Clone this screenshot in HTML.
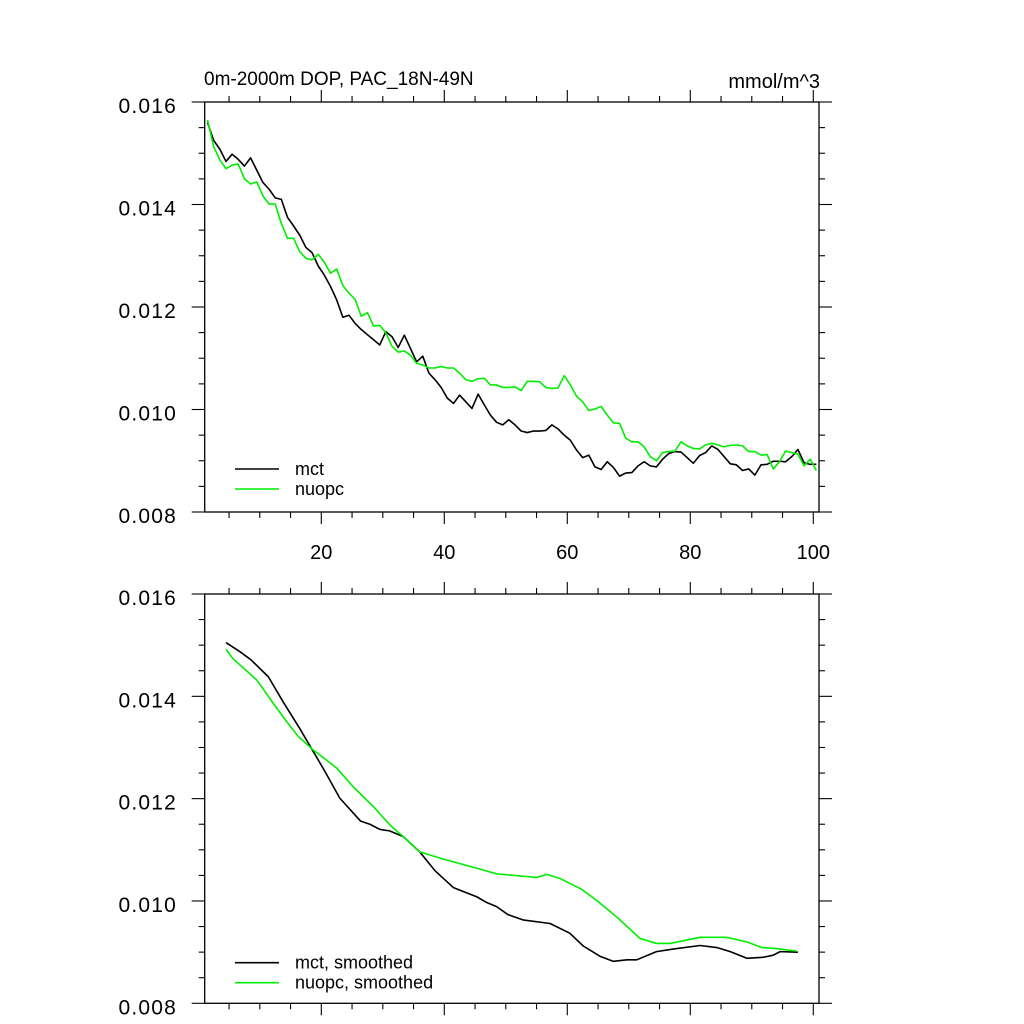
<!DOCTYPE html>
<html><head><meta charset="utf-8"><style>
html,body{margin:0;padding:0;background:#fff;}
svg{display:block;font-family:"Liberation Sans",Arial,sans-serif;}
</style></head><body>
<svg id="chart" width="1024" height="1024" viewBox="0 0 1024 1024" xmlns="http://www.w3.org/2000/svg">
<rect x="0" y="0" width="1024" height="1024" fill="#fff"/>
<text x="204" y="85" font-size="19">0m-2000m DOP, PAC_18N-49N</text>
<text x="820" y="88" font-size="20" text-anchor="end">mmol/m^3</text>
<g id="top"></g>
<g id="bot"></g>
</svg>
<script>
const xTicks = [20, 40, 60, 80, 100];
const yTicks = [0.008, 0.010, 0.012, 0.014, 0.016];
const yTickLabels = ["0.008", "0.010", "0.012", "0.014", "0.016"];
const mctRaw = [0.0156,0.01525,0.01508,0.01484,0.01498,0.01488,0.01475,0.01491,0.01467,0.01443,0.0143,0.01413,0.0141,0.01375,0.01358,0.0134,0.01316,0.01306,0.0128,0.01262,0.0124,0.01214,0.0118,0.01184,0.01168,
0.01156,0.01146,0.01136,0.01126,0.01152,0.01142,0.01121,0.01145,0.01119,0.01093,0.01104,0.01071,0.01058,0.01043,0.01022,0.01012,0.01028,0.01015,0.01002,0.0103,0.01009,0.00989,0.00975,0.0097,0.0098,
0.0097,0.00958,0.00955,0.00958,0.00958,0.00959,0.0097,0.00962,0.0095,0.0094,0.00921,0.00906,0.00911,0.00888,0.00883,0.00898,0.00887,0.0087,0.00876,0.00877,0.0089,0.00898,0.0089,0.00888,0.00903,
0.00914,0.00918,0.00917,0.00906,0.00895,0.0091,0.00916,0.00929,0.00922,0.00908,0.00894,0.00892,0.00881,0.00884,0.00872,0.00892,0.00893,0.00899,0.00899,0.00898,0.00908,0.00922,0.00896,0.00893,0.00893];
const nuopcRaw = [0.01565,0.01513,0.01487,0.0147,0.01477,0.01479,0.0145,0.0144,0.01444,0.01417,0.01401,0.01401,0.01363,0.01334,0.01334,0.01308,0.01295,0.01292,0.01303,0.01287,0.01266,0.01274,0.01242,0.01227,0.01215,
0.01182,0.01189,0.01163,0.01164,0.0115,0.01123,0.01112,0.01114,0.01106,0.0109,0.01087,0.01081,0.01081,0.01084,0.01081,0.01081,0.01071,0.01058,0.01055,0.0106,0.01061,0.01048,0.01048,0.01043,0.01043,
0.01044,0.01037,0.01055,0.01055,0.01054,0.01043,0.01041,0.01042,0.01066,0.01048,0.01026,0.01015,0.00998,0.01001,0.01006,0.00989,0.00974,0.00973,0.00944,0.00937,0.00937,0.00927,0.00908,0.009,0.00916,
0.00918,0.00919,0.00937,0.00929,0.00924,0.00923,0.00931,0.00934,0.00931,0.00927,0.0093,0.00931,0.00929,0.00918,0.00918,0.00911,0.00912,0.00884,0.00898,0.00919,0.00916,0.00913,0.0089,0.00903,0.00881];
const mctSmX = [4.5,6.8,8.6,11.4,13.8,16.5,18.7,20.6,23.0,26.4,27.9,29.5,31.1,33.3,36.0,38.5,41.5,45.3,46.9,48.5,50.4,52.8,57.2,60.4,62.6,65.3,67.5,69.7,71.3,74.5,77.2,81.6,84.3,86.5,89.2,91.9,93.5,94.6,97.5];
const mctSmY = [0.01505,0.01487,0.01471,0.01438,0.01389,0.01337,0.01292,0.01253,0.01201,0.01156,0.0115,0.0114,0.01137,0.01126,0.01096,0.01059,0.01026,0.01008,0.00997,0.00989,0.00973,0.00963,0.00956,0.00937,0.00912,0.00892,0.00882,0.00885,0.00885,0.00901,0.00906,0.00913,0.00909,0.00901,0.00888,0.0089,0.00894,0.00901,0.009];
const nuopcSmX = [4.5,5.6,9.5,12.2,14.4,16.3,18.7,22.5,25.2,28.5,31.2,33.3,36.0,39.8,45.3,48.5,52.3,55.0,56.7,58.8,62.3,64.8,68.0,71.8,74.5,76.7,81.6,85.9,89.2,91.6,94.0,97.3];
const nuopcSmY = [0.01492,0.01474,0.01432,0.01386,0.0135,0.01321,0.01295,0.0126,0.01223,0.01184,0.01148,0.01126,0.01096,0.01082,0.01064,0.01053,0.01049,0.01046,0.01052,0.01044,0.01023,0.01001,0.00969,0.00927,0.00917,0.00917,0.00929,0.00929,0.0092,0.00909,0.00907,0.00902];

const NS = "http://www.w3.org/2000/svg";
const X0 = 204.7, X1 = 819, XMIN = 1.04, XMAX = 100.93;
function xs(v){ return X0 + (v - XMIN) / (XMAX - XMIN) * (X1 - X0); }
function mk(tag, attrs, parent){ const e = document.createElementNS(NS, tag); for (const k in attrs) e.setAttribute(k, attrs[k]); parent.appendChild(e); return e; }

function panel(g, top, bottom, xLabels){
  function ys(v){ return bottom - (v - 0.008) / 0.008 * (bottom - top); }
  const frame = mk("rect", {x:X0, y:top, width:X1-X0, height:bottom-top, fill:"none", stroke:"#000", "stroke-width":1.3}, g);
  
  
  for (let v = 5; v <= 100; v += 5) {
    const major = v % 20 === 0, L = major ? 12 : 6, x = xs(v);
    const t1 = mk("line", {x1:x, x2:x, y1:bottom, y2:bottom+L, stroke:"#000", "stroke-width":1.1}, g);
    
    
    const t2 = mk("line", {x1:x, x2:x, y1:top, y2:top-L, stroke:"#000", "stroke-width":1.1}, g);
    
    
  }
  if (xLabels) xTicks.forEach(v => {
    const t = mk("text", {x:xs(v), y:bottom+47, "font-size":20, "text-anchor":"middle"}, g);
    t.textContent = String(v);
    
    
  });
  for (let k = 0; k <= 16; k++) {
    const v = 0.008 + k * 0.0005, major = k % 4 === 0, L = major ? 13 : 6, y = ys(v);
    const a = mk("line", {x1:X0, x2:X0-L, y1:y, y2:y, stroke:"#000", "stroke-width":1.1}, g);
    
    
    const b = mk("line", {x1:X1, x2:X1+L, y1:y, y2:y, stroke:"#000", "stroke-width":1.1}, g);
    
    
  }
  yTicks.forEach((v, i) => {
    const t = mk("text", {x:177, y:ys(v)+11, "font-size":21, "letter-spacing":1.2, "text-anchor":"end"}, g);
    t.textContent = yTickLabels[i];
    
    
  });
  return ys;
}
function line(g, xv, yv, ys, color, name){
  const d = xv.map((x, i) => (i ? "L" : "M") + xs(x).toFixed(2) + "," + ys(yv[i]).toFixed(2)).join("");
  const p = mk("path", {d:d, fill:"none", stroke:color, "stroke-width":1.6, "stroke-linejoin":"round"}, g);
  
  
}
function legend(g, y0, labels){
  [["#000", labels[0]], ["#00ee00", labels[1]]].forEach((it, i) => {
    const y = y0 + i * 20;
    const l = mk("line", {x1:235, x2:279, y1:y, y2:y, stroke:it[0], "stroke-width":1.6}, g);
    
    
    const t = mk("text", {x:295, y:y+6, "font-size":18}, g);
    t.textContent = it[1];
    
    
  });
}
const gTop = document.getElementById("top"), gBot = document.getElementById("bot");
const ysTop = panel(gTop, 102, 512, true);
const idx = mctRaw.map((_, i) => i + 1.5);
line(gTop, idx, mctRaw, ysTop, "#000", "mct-line");
line(gTop, idx, nuopcRaw, ysTop, "#00ee00", "nuopc-line");
legend(gTop, 469, ["mct", "nuopc"]);
const ysBot = panel(gBot, 594, 1003.3, false);
line(gBot, mctSmX, mctSmY, ysBot, "#000", "mct-smoothed-line");
line(gBot, nuopcSmX, nuopcSmY, ysBot, "#00ee00", "nuopc-smoothed-line");
legend(gBot, 962.7, ["mct, smoothed", "nuopc, smoothed"]);
</script>
</body></html>
